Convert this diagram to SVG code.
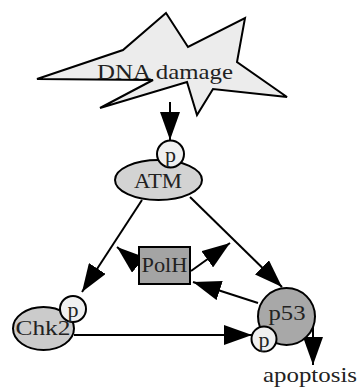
<svg xmlns="http://www.w3.org/2000/svg" width="358" height="388" viewBox="0 0 358 388">
<style>
.s{stroke:#000;stroke-width:2;}
.t{font-family:'Liberation Serif','DejaVu Serif','Times New Roman',serif;font-size:22px;fill:#222;text-anchor:middle;}
.c{fill:none;stroke:#000;stroke-width:2;marker-end:url(#ah);}
.pc{fill:#f0f0f0;stroke:#000;stroke-width:2;}
</style>
<defs>
<marker id="ah" viewBox="0 0 28 20" markerWidth="28" markerHeight="20" refX="28" refY="10" orient="auto" markerUnits="userSpaceOnUse">
<path d="M0,0 L28,10 L0,20 z" fill="#000"/>
</marker>
</defs>
<rect width="358" height="388" fill="#fff"/>
<g id="connectors">
<path class="c" d="M170,102 L170,140"/>
<path class="c" d="M142,200 L82,292"/>
<path class="c" d="M190,197 L282,287"/>
<path class="c" d="M148,273 L117,247"/>
<path class="c" d="M191,271 L230,243"/>
<path class="c" d="M258,303 L193,282"/>
<path class="c" d="M74,335 L252,335"/>
<path class="c" d="M313,327 L313,365"/>
</g>
<g id="dna_damage">
<polygon class="s" fill="#ececec" points="166,13 188,47 245,18 237,62 287,97 213,89 197,115 187,82 100,108 153,80 37,79 123,50"/>
<text class="t" x="165" y="79" textLength="136" lengthAdjust="spacingAndGlyphs">DNA damage</text>
</g>
<g id="atm">
<ellipse class="s" cx="158.5" cy="180" rx="43.5" ry="20" fill="#d3d3d3"/>
<text class="t" x="158" y="188" textLength="48" lengthAdjust="spacingAndGlyphs">ATM</text>
<circle class="pc" cx="170.5" cy="154" r="13.5"/>
<text class="t" x="170.5" y="162">p</text>
</g>
<g id="polh">
<rect class="s" x="139" y="247" width="51" height="37" fill="#a4a4a4"/>
<text class="t" x="164.5" y="272" textLength="46" lengthAdjust="spacingAndGlyphs">PolH</text>
</g>
<g id="chk2">
<ellipse class="s" cx="43.5" cy="328.5" rx="30.5" ry="21.5" fill="#cbcbcb"/>
<text class="t" x="43" y="335" textLength="55" lengthAdjust="spacingAndGlyphs">Chk2</text>
<circle class="pc" cx="73" cy="309" r="13"/>
<text class="t" x="73" y="317">p</text>
</g>
<g id="p53">
<circle class="s" cx="286.5" cy="316.5" r="28.5" fill="#a8a8a8"/>
<text class="t" x="287" y="320" textLength="37" lengthAdjust="spacingAndGlyphs">p53</text>
<circle class="pc" cx="264" cy="339" r="12.5"/>
<text class="t" x="264" y="347">p</text>
</g>
<g id="apoptosis">
<text class="t" x="310" y="382" textLength="94" lengthAdjust="spacingAndGlyphs">apoptosis</text>
</g>
</svg>
